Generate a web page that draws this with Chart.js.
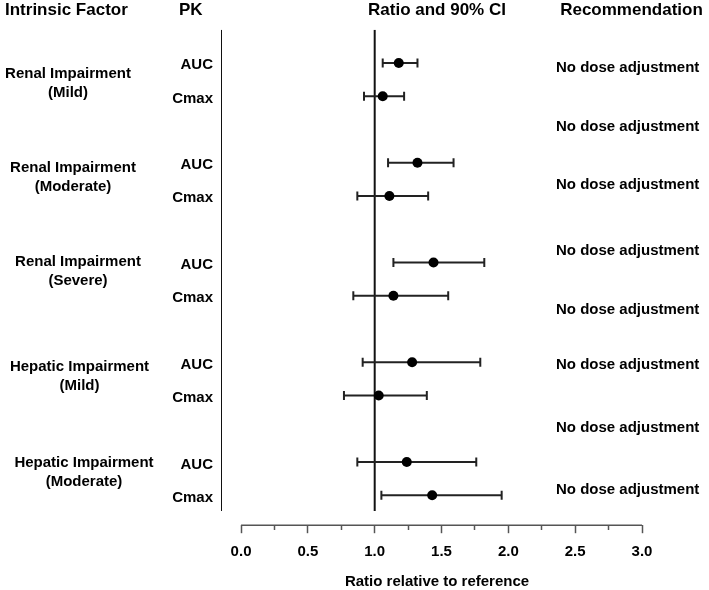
<!DOCTYPE html>
<html>
<head>
<meta charset="utf-8">
<script src="https://cdn.jsdelivr.net/npm/chart.js@4"></script>
<style>
  html, body { margin: 0; padding: 0; background: #fff; }
  #wrap { width: 709px; height: 590px; }
</style>
</head>
<body>
<div id="wrap"><canvas id="forest" width="709" height="590"></canvas></div>
<script>
// --- data ---
const factorNames = ['Renal Impairment', 'Renal Impairment', 'Renal Impairment', 'Hepatic Impairment', 'Hepatic Impairment'];
const factorLevels = ['(Mild)', '(Moderate)', '(Severe)', '(Mild)', '(Moderate)'];
const pkParams = ['AUC', 'Cmax'];
// one entry per row: AUC, Cmax for each factor
const ratio  = [1.18, 1.06, 1.32, 1.11, 1.44, 1.14, 1.28, 1.03, 1.24, 1.43];
const ciLow  = [1.06, 0.92, 1.10, 0.87, 1.14, 0.84, 0.91, 0.77, 0.87, 1.05];
const ciHigh = [1.32, 1.22, 1.59, 1.40, 1.82, 1.55, 1.79, 1.39, 1.76, 1.95];
const recommendations = [
  'No dose adjustment', 'No dose adjustment', 'No dose adjustment', 'No dose adjustment',
  'No dose adjustment', 'No dose adjustment', 'No dose adjustment', 'No dose adjustment'
];
const xTickLabels = ['0.0', '0.5', '1.0', '1.5', '2.0', '2.5', '3.0'];
const refRatio = 1.0;

// --- layout (y in row units, x in px) ---
const recRows = [0.12, 1.90, 3.64, 5.63, 7.38, 9.06, 10.94, 12.82];
const factorRows = [0.45, 3.28, 6.11, 9.25, 12.16];
const factorX = [68, 73, 78, 79.5, 84];
const Y_MIN = -1, Y_MAX = 13.9, LINE_END = 13.47, X_MIN = -0.15, X_MAX = 3;
const FONT = '"Liberation Sans", Arial, Helvetica, sans-serif';

const rowOf = i => Math.floor(i / 2) * 3 + (i % 2);

const datasets = [];

// point estimates
datasets.push({
  data: ratio.map((v, i) => ({ x: v, y: rowOf(i) })),
  pointRadius: 5,
  pointBackgroundColor: '#000',
  pointBorderWidth: 0,
  order: 0
});

// confidence intervals with end caps
ciLow.forEach((lo, i) => {
  datasets.push({
    data: [{ x: lo, y: rowOf(i) }, { x: ciHigh[i], y: rowOf(i) }],
    showLine: true,
    borderColor: '#222',
    borderWidth: 2,
    pointStyle: 'line',
    pointRotation: 90,
    pointRadius: 4.5,
    pointBorderWidth: 2,
    pointBorderColor: '#222',
    order: 1
  });
});

// reference line at ratio 1 and the left frame line
[refRatio, X_MIN].forEach(xv => {
  datasets.push({
    data: [{ x: xv, y: Y_MIN }, { x: xv, y: LINE_END }],
    showLine: true,
    borderColor: '#111',
    borderWidth: 2,
    pointRadius: 0,
    order: 2
  });
});

// x axis line from 0 to 3 only
datasets.push({
  data: [{ x: 0, y: Y_MAX }, { x: X_MAX, y: Y_MAX }],
  showLine: true,
  borderColor: '#555',
  borderWidth: 1.5,
  pointRadius: 0,
  clip: false,
  order: 2
});

const textPlugin = {
  id: 'forestText',
  afterDraw(chart) {
    const { ctx, scales: { y } } = chart;
    ctx.save();
    ctx.fillStyle = '#000';
    ctx.textBaseline = 'alphabetic';

    ctx.font = 'bold 17px ' + FONT;
    ctx.textAlign = 'left';
    ctx.fillText('Intrinsic Factor', 5, 15);
    ctx.fillText('PK', 179, 15);
    ctx.textAlign = 'center';
    ctx.fillText('Ratio and 90% CI', 437, 15);
    ctx.fillText('Recommendation', 631.5, 15);

    ctx.font = 'bold 15px ' + FONT;
    factorNames.forEach((name, g) => {
      const by = y.getPixelForValue(factorRows[g]);
      ctx.textAlign = 'center';
      ctx.fillText(name, factorX[g], by);
      ctx.fillText(factorLevels[g], factorX[g], by + 19);
      pkParams.forEach((pk, k) => {
        ctx.textAlign = 'right';
        ctx.fillText(pk, 213, y.getPixelForValue(g * 3 + k) + 6.5);
      });
    });

    ctx.textAlign = 'left';
    recommendations.forEach((txt, i) => {
      ctx.fillText(txt, 556, y.getPixelForValue(recRows[i]) + 5.2);
    });

    ctx.textAlign = 'center';
    ctx.fillText('Ratio relative to reference', 437, 586);
    ctx.restore();
  }
};

new Chart(document.getElementById('forest'), {
  type: 'scatter',
  data: { datasets },
  options: {
    responsive: false,
    animation: false,
    devicePixelRatio: 1,
    layout: { padding: { left: 221, right: 67, top: 29.7, bottom: 18.8 } },
    plugins: { legend: { display: false }, tooltip: { enabled: false } },
    scales: {
      x: {
        type: 'linear',
        min: X_MIN,
        max: X_MAX,
        afterBuildTicks: scale => {
          const t = [];
          xTickLabels.forEach((lab, i) => {
            t.push({ value: parseFloat(lab) });
            if (i < xTickLabels.length - 1) t.push({ value: parseFloat(lab) + 0.25 });
          });
          scale.ticks = t;
        },
        border: { display: false },
        grid: {
          drawOnChartArea: false,
          drawTicks: true,
          tickLength: 8,
          tickColor: '#555',
          tickWidth: 1.5,
          tickBorderDash: c => (c.tick && c.tick.value % 0.5 !== 0) ? [5, 100] : []
        },
        ticks: {
          autoSkip: false,
          maxRotation: 0,
          padding: 10,
          color: '#000',
          font: { family: FONT, size: 15, weight: 'bold' },
          callback: v => (v % 0.5 === 0 ? v.toFixed(1) : '')
        }
      },
      y: {
        type: 'linear',
        reverse: true,
        min: Y_MIN,
        max: Y_MAX,
        display: false
      }
    }
  },
  plugins: [textPlugin]
});
</script>
</body>
</html>
